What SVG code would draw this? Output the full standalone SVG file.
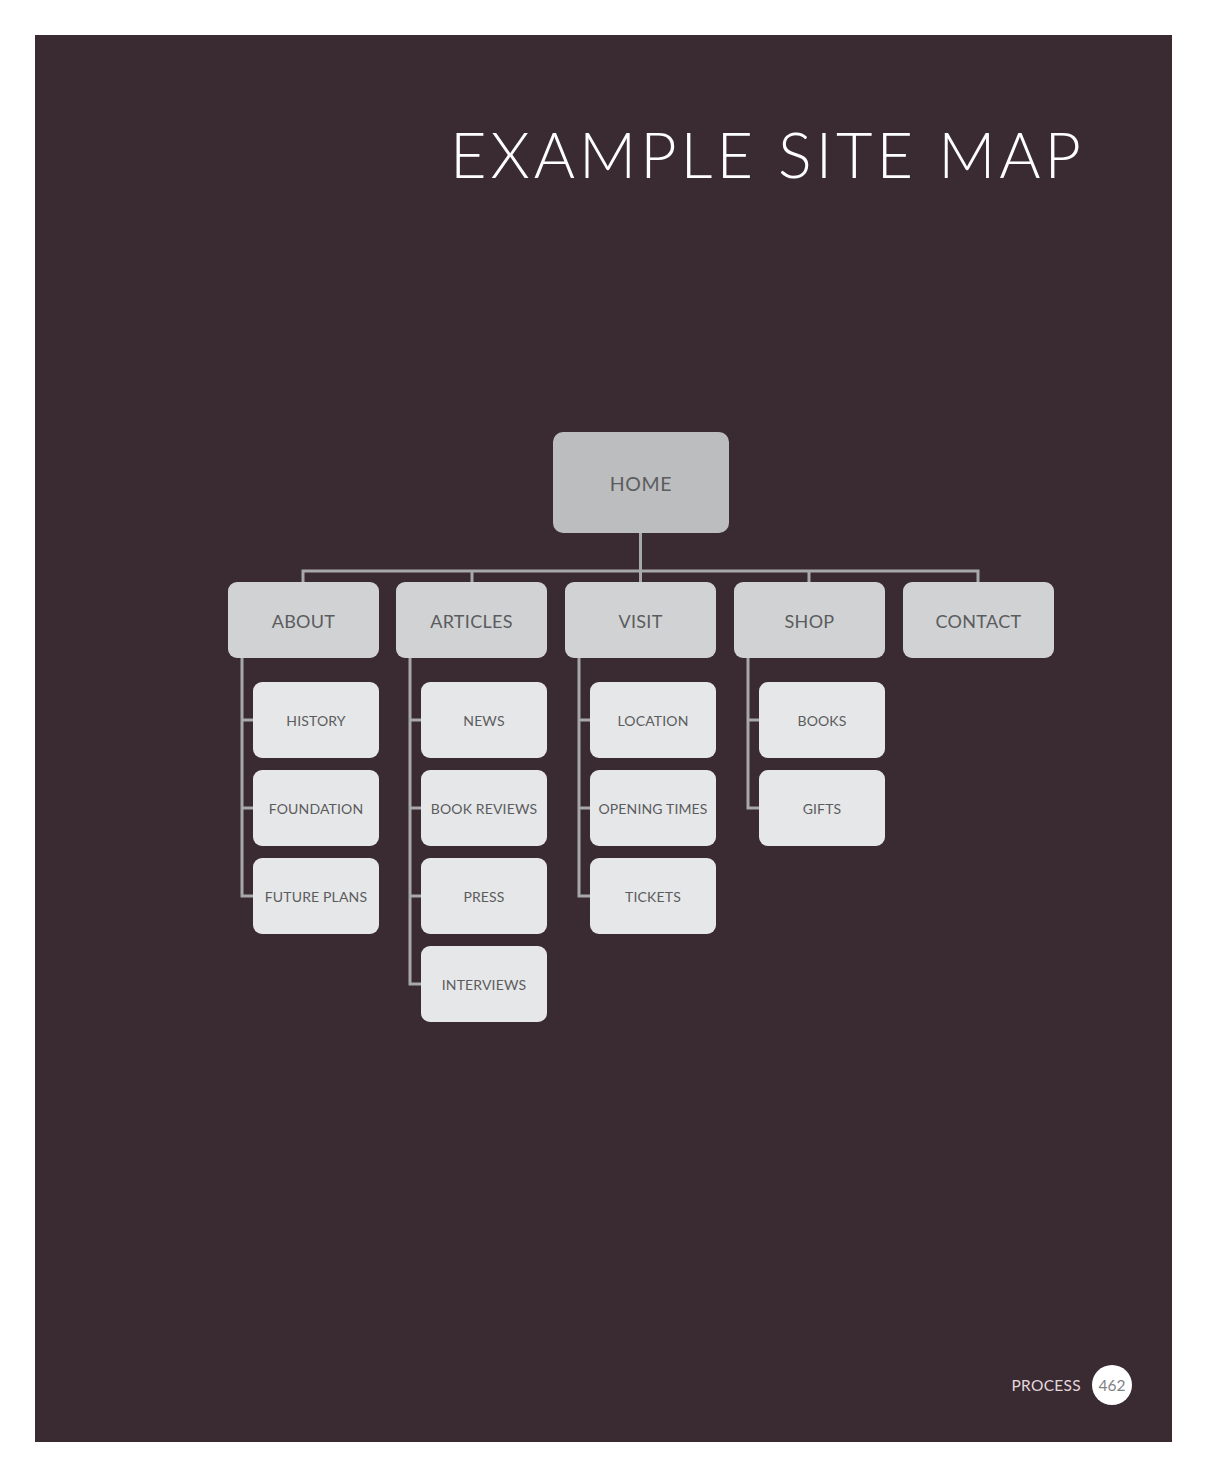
<svg xmlns="http://www.w3.org/2000/svg" width="1206" height="1478" viewBox="0 0 1206 1478">
  <defs>
    <style>
      .lbl { font-family: Lato, "Open Sans", "Liberation Sans", sans-serif; fill: #5b5c5e; text-anchor: middle; }
      .root { fill: #bcbdbf; }
      .sec { fill: #d1d2d4; }
      .page { fill: #e6e7e8; }
      .t-root { font-size: 19.5px; letter-spacing: 0.6px; }
      .t-sec { font-size: 18px; letter-spacing: 0.3px; }
      .t-page { font-size: 14px; letter-spacing: 0.15px; }
      .wire { fill: none; stroke: #a7a8aa; stroke-width: 3; }
    </style>
  </defs>

  <rect width="1206" height="1478" fill="#ffffff"/>
  <rect x="35" y="35" width="1137" height="1407" fill="#3a2a31"/>

  <text x="450" y="178" font-family="Lato, 'Open Sans', 'Liberation Sans', sans-serif" font-size="63" font-weight="300" fill="#ffffff" textLength="631" lengthAdjust="spacing">EXAMPLE SITE MAP</text>

  <!-- connectors -->
  <g id="connectors" class="wire">
    <path d="M640.5 533 V571"/>
    <path d="M303 582 V571 H978 V582"/>
    <path d="M472 571 V582 M640.5 571 V582 M809 571 V582"/>
    <!-- about -->
    <path d="M242 658 V896 H253 M242 720 H253 M242 808 H253"/>
    <!-- articles -->
    <path d="M410 658 V984 H421 M410 720 H421 M410 808 H421 M410 896 H421"/>
    <!-- visit -->
    <path d="M579 658 V896 H590 M579 720 H590 M579 808 H590"/>
    <!-- shop -->
    <path d="M748 658 V808 H759 M748 720 H759"/>
  </g>

  <g id="home">
    <rect class="root" x="553" y="432" width="176" height="101" rx="10"/>
    <text class="lbl t-root" x="641" y="491">HOME</text>
  </g>

  <g id="about">
    <rect class="sec" x="228" y="582" width="151" height="76" rx="9"/>
    <text class="lbl t-sec" x="303.5" y="628">ABOUT</text>
  </g>
  <g id="articles">
    <rect class="sec" x="396" y="582" width="151" height="76" rx="9"/>
    <text class="lbl t-sec" x="471.5" y="628">ARTICLES</text>
  </g>
  <g id="visit">
    <rect class="sec" x="565" y="582" width="151" height="76" rx="9"/>
    <text class="lbl t-sec" x="640.5" y="628">VISIT</text>
  </g>
  <g id="shop">
    <rect class="sec" x="734" y="582" width="151" height="76" rx="9"/>
    <text class="lbl t-sec" x="809.5" y="628">SHOP</text>
  </g>
  <g id="contact">
    <rect class="sec" x="903" y="582" width="151" height="76" rx="9"/>
    <text class="lbl t-sec" x="978.5" y="628">CONTACT</text>
  </g>

  <g id="history">
    <rect class="page" x="253" y="682" width="126" height="76" rx="9"/>
    <text class="lbl t-page" x="316" y="725.5">HISTORY</text>
  </g>
  <g id="foundation">
    <rect class="page" x="253" y="770" width="126" height="76" rx="9"/>
    <text class="lbl t-page" x="316" y="813.5">FOUNDATION</text>
  </g>
  <g id="future-plans">
    <rect class="page" x="253" y="858" width="126" height="76" rx="9"/>
    <text class="lbl t-page" x="316" y="901.5">FUTURE PLANS</text>
  </g>

  <g id="news">
    <rect class="page" x="421" y="682" width="126" height="76" rx="9"/>
    <text class="lbl t-page" x="484" y="725.5">NEWS</text>
  </g>
  <g id="book-reviews">
    <rect class="page" x="421" y="770" width="126" height="76" rx="9"/>
    <text class="lbl t-page" x="484" y="813.5">BOOK REVIEWS</text>
  </g>
  <g id="press">
    <rect class="page" x="421" y="858" width="126" height="76" rx="9"/>
    <text class="lbl t-page" x="484" y="901.5">PRESS</text>
  </g>
  <g id="interviews">
    <rect class="page" x="421" y="946" width="126" height="76" rx="9"/>
    <text class="lbl t-page" x="484" y="989.5">INTERVIEWS</text>
  </g>

  <g id="location">
    <rect class="page" x="590" y="682" width="126" height="76" rx="9"/>
    <text class="lbl t-page" x="653" y="725.5">LOCATION</text>
  </g>
  <g id="opening-times">
    <rect class="page" x="590" y="770" width="126" height="76" rx="9"/>
    <text class="lbl t-page" x="653" y="813.5">OPENING TIMES</text>
  </g>
  <g id="tickets">
    <rect class="page" x="590" y="858" width="126" height="76" rx="9"/>
    <text class="lbl t-page" x="653" y="901.5">TICKETS</text>
  </g>

  <g id="books">
    <rect class="page" x="759" y="682" width="126" height="76" rx="9"/>
    <text class="lbl t-page" x="822" y="725.5">BOOKS</text>
  </g>
  <g id="gifts">
    <rect class="page" x="759" y="770" width="126" height="76" rx="9"/>
    <text class="lbl t-page" x="822" y="813.5">GIFTS</text>
  </g>

  <!-- folio -->
  <text x="1081" y="1391" font-family="Lato, 'Open Sans', 'Liberation Sans', sans-serif" font-size="15.5" fill="#e3d8de" text-anchor="end" letter-spacing="0.3">PROCESS</text>
  <circle cx="1112" cy="1385" r="20" fill="#ffffff"/>
  <text x="1112" y="1391" font-family="Lato, 'Open Sans', 'Liberation Sans', sans-serif" font-size="15.5" fill="#808285" text-anchor="middle">462</text>
</svg>
